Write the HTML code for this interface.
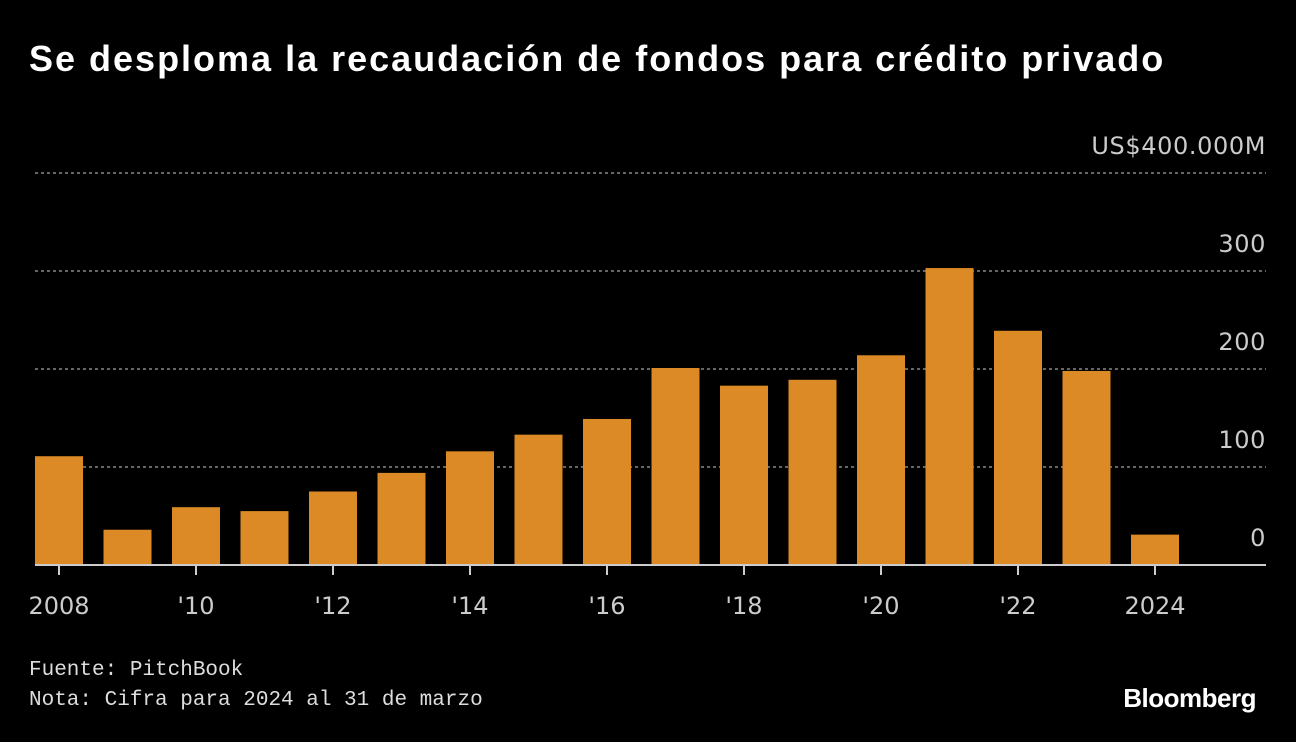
<!DOCTYPE html>
<html><head><meta charset="utf-8"><style>
body{margin:0;background:#000;width:1296px;height:742px;overflow:hidden;font-family:"Liberation Sans",sans-serif;color:#fff}
#title{position:absolute;left:29px;top:38px;font-size:36px;font-weight:bold;letter-spacing:2px;white-space:nowrap}
.foot{position:absolute;left:29px;color:#ddd;font-family:"Liberation Mono",monospace;font-size:21px}
#brand{position:absolute;right:40px;top:683px;font-size:26px;font-weight:bold;letter-spacing:-0.5px}
</style></head><body>
<div id="title">Se desploma la recaudación de fondos para crédito privado</div>
<svg id="chart" width="1296" height="742" style="position:absolute;left:0;top:0"></svg>
<div class="foot" style="top:659px">Fuente: PitchBook</div>
<div class="foot" style="top:689px">Nota: Cifra para 2024 al 31 de marzo</div>
<div id="brand">Bloomberg</div>
<script>
const years=[2008,2009,2010,2011,2012,2013,2014,2015,2016,2017,2018,2019,2020,2021,2022,2023,2024];
const values=[111,36,59,55,75,94,116,133,149,201,183,189,214,303,239,198,31];
const yTicks=[0,100,200,300,400];
const yTickLabels=['0','100','200','300','US$400.000M'];
const xTickYears=[2008,2010,2012,2014,2016,2018,2020,2022,2024];
const xTickLabels=['2008',"'10","'12","'14","'16","'18","'20","'22",'2024'];
const NS='http://www.w3.org/2000/svg';
const svg=document.getElementById('chart');
const y=v=>565-v*0.98;
const x=yr=>59+(yr-2008)*68.5;
function mk(t,a){const e=document.createElementNS(NS,t);for(const k in a)e.setAttribute(k,a[k]);svg.appendChild(e);return e;}
yTicks.forEach((t,i)=>{
  if(t>0){const l=mk('line',{x1:35,x2:1266,y1:y(t),y2:y(t),stroke:'#888','stroke-width':1.5,'stroke-dasharray':'3,3'});
  
  }
  const tx=mk('text',{x:1266,y:y(t)-19,'text-anchor':'end',fill:'#ccc','font-size':24,'letter-spacing':0.6,'font-family':'DejaVu Sans, Liberation Sans, sans-serif'});
  tx.textContent=yTickLabels[i];
  
  
});
years.forEach((yr,i)=>{
  const r=mk('rect',{x:x(yr)-24,y:y(values[i]),width:48,height:565-y(values[i]),fill:'#dc8a25'});
  
  
});
const ax=mk('line',{x1:35,x2:1266,y1:565,y2:565,stroke:'#ccc','stroke-width':2});


xTickYears.forEach((yr,i)=>{
  const t=mk('line',{x1:x(yr),x2:x(yr),y1:565,y2:575,stroke:'#ccc','stroke-width':2});
  
  
  const tx=mk('text',{x:x(yr),y:614,'text-anchor':'middle',fill:'#ccc','font-size':24,'font-family':'DejaVu Sans, Liberation Sans, sans-serif'});
  tx.textContent=xTickLabels[i];
  
  
});
</script>
</body></html>
